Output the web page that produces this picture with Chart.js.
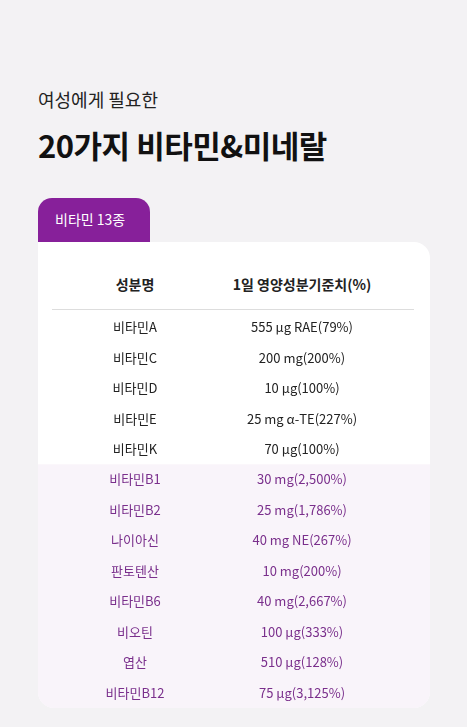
<!DOCTYPE html>
<html><head><meta charset="utf-8">
<script src="https://cdn.jsdelivr.net/npm/chart.js@4/dist/chart.umd.min.js"></script>
<style>
body{margin:0;width:467px;height:727px;background:#f3f2f4;font-family:"Noto Sans CJK KR","Noto Sans",sans-serif;position:relative;overflow:hidden}
.t1{position:absolute;left:38px;top:86px;font-size:18px;color:#222}
.t2{position:absolute;left:38px;top:122px;font-size:31px;font-weight:700;color:#111;letter-spacing:-0.5px}
.tab{position:absolute;left:38px;top:198px;width:112px;height:52px;background:#87209a;border-radius:14px 14px 0 0;color:#fff;font-size:14px;text-indent:17px;line-height:42px}
.card{position:absolute;left:38px;top:242px;width:392px;height:466px;background:#fff;border-radius:0 16px 16px 16px;overflow:hidden}
.h{position:absolute;top:32px;font-size:14px;font-weight:600;color:#222;transform:translateX(-50%);white-space:nowrap}
.rule{position:absolute;left:14px;right:16px;top:67px;height:1px;background:#ddd}
#wrap{position:absolute;left:0;top:70px;width:392px;height:396px}
</style></head><body>
<div class="t1">여성에게 필요한</div>
<div class="t2">20가지 비타민&amp;미네랄</div>
<div class="tab">비타민 13종</div>
<div class="card">
<div class="h" style="left:97px">성분명</div>
<div class="h" style="left:264px">1일 영양성분기준치(%)</div>
<div class="rule"></div>
<div id="wrap"><canvas id="c"></canvas></div>
</div>
<script>
const names = ["비타민A","비타민C","비타민D","비타민E","비타민K","비타민B1","비타민B2","나이아신","판토텐산","비타민B6","비오틴","엽산","비타민B12"];
const amounts = ["555 μg RAE","200 mg","10 μg","25 mg α-TE","70 μg","30 mg","25 mg","40 mg NE","10 mg","40 mg","100 μg","510 μg","75 μg"];
const percents = ["79%","200%","100%","227%","100%","2,500%","1,786%","267%","200%","2,667%","333%","128%","3,125%"];
const highlightFrom = 5;
const purple = "#7a2f8c";

const tablePlugin = {
  id: "tableText",
  beforeDraw(chart) {
    const {ctx, scales: {y}} = chart;
    const top = (y.getPixelForValue(highlightFrom - 1) + y.getPixelForValue(highlightFrom)) / 2;
    ctx.save();
    ctx.fillStyle = "#f9f4fa";
    ctx.fillRect(0, top, chart.width, chart.height - top);
    ctx.restore();
  },
  afterDatasetsDraw(chart) {
    const {ctx, scales: {y}} = chart;
    ctx.save();
    ctx.textAlign = "center";
    ctx.textBaseline = "middle";
    ctx.font = '13px "Noto Sans CJK KR"';
    names.forEach((n, i) => {
      const py = y.getPixelForValue(i);
      ctx.fillStyle = i >= highlightFrom ? purple : "#222";
      ctx.fillText(n, 97, py);
      ctx.fillText(amounts[i] + "(" + percents[i] + ")", 264, py);
    });
    ctx.restore();
  }
};

new Chart(document.getElementById("c"), {
  type: "bar",
  data: {labels: names, datasets: [{data: names.map(() => 0), backgroundColor: "transparent"}]},
  options: {
    indexAxis: "y",
    responsive: true,
    maintainAspectRatio: false,
    animation: false,
    layout: {padding: 0},
    plugins: {legend: {display: false}, tooltip: {enabled: false}},
    scales: {
      x: {display: false, min: 0, max: 1},
      y: {offset: true, display: false}
    }
  },
  plugins: [tablePlugin]
});
</script>
</body></html>
